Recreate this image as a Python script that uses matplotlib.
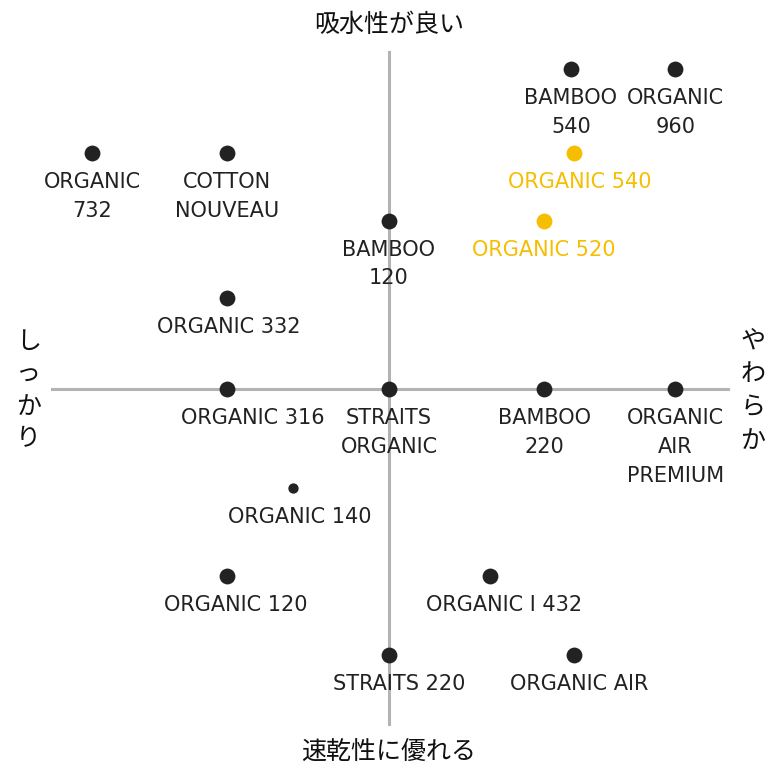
import matplotlib
matplotlib.use('Agg')
import matplotlib.pyplot as plt

# positioning map: x = しっかり(-) .. やわらか(+), y = 速乾性(-) .. 吸水性(+)
names = ['BAMBOO\n540', 'ORGANIC\n960', 'ORGANIC 540', 'ORGANIC 520',
         'ORGANIC\n732', 'COTTON\nNOUVEAU', 'BAMBOO\n120', 'ORGANIC 332',
         'ORGANIC 316', 'STRAITS\nORGANIC', 'BAMBOO\n220', 'ORGANIC\nAIR\nPREMIUM',
         'ORGANIC 140', 'ORGANIC 120', 'ORGANIC I 432', 'STRAITS 220', 'ORGANIC AIR']
xs = [5.4, 8.5, 5.5, 4.6, -8.8, -4.8, 0.0, -4.8, -4.8, 0.0, 4.6, 8.5, -2.85, -4.8, 3.0, 0.0, 5.5]
ys = [9.5, 9.5, 7.0, 5.0, 7.0, 7.0, 5.0, 2.7, 0.0, 0.0, 0.0, 0.0, -2.95, -5.55, -5.55, -7.9, -7.9]
highlight = [False, False, True, True] + [False] * 13
small = [n == 'ORGANIC 140' for n in names]
# small horizontal nudges of the labels (pixels)
label_dx = [0, 0, 5, 0, 0, 0, 0, 2, 26, 0, 0, 0, 7, 9, 14, 10, 5]

dark = '#222222'
yellow = '#f5be00'
grey = '#b3b3b3'

plt.rcParams['font.family'] = ['DejaVu Sans', 'Noto Sans CJK JP']

fig = plt.figure(figsize=(7.8, 7.8), dpi=100)
ax = fig.add_axes([0, 0, 1, 1])
ax.set_xlim(-389 / 33.7, 391 / 33.7)
ax.set_ylim(-391 / 33.7, 389 / 33.7)
ax.axis('off')

ax.plot([-10, 10.05], [0, 0], color=grey, lw=2.2, zorder=1)
ax.plot([0, 0], [-9.95, 10], color=grey, lw=2.2, zorder=1)

for n, x, y, h, s, dx in zip(names, xs, ys, highlight, small, label_dx):
    c = yellow if h else dark
    ax.scatter(x, y, s=55 if s else 130, color=c, zorder=3, linewidths=0)
    ax.annotate(n, (x, y), xytext=(dx, -19), textcoords='offset pixels',
                ha='center', va='top', fontsize=15, color=c,
                linespacing=1.55, zorder=4)

jp = dict(family=['Noto Sans CJK JP', 'DejaVu Sans'], fontsize=18, color='#111111')
ax.text(0, 10.8, '吸水性が良い', ha='center', va='center', **jp)
ax.text(0, -10.75, '速乾性に優れる', ha='center', va='center', **jp)
ax.text(-10.7, -0.05, 'し\nっ\nか\nり', ha='center', va='center', linespacing=1.32, **jp)
ax.text(10.8, -0.05, 'や\nわ\nら\nか', ha='center', va='center', linespacing=1.38, **jp)

fig.savefig('out.png', dpi=100)
